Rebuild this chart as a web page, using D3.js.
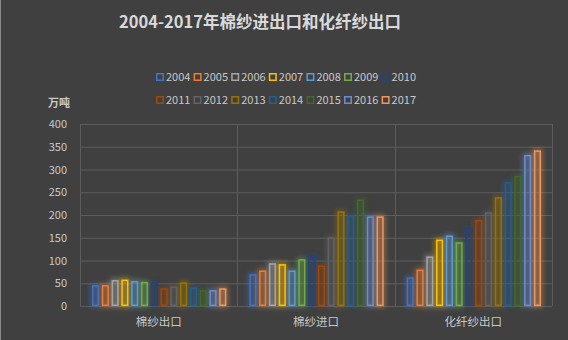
<!DOCTYPE html>
<html><head><meta charset="utf-8">
<script src="https://cdn.jsdelivr.net/npm/d3@7"></script>
<style>
html,body{margin:0;padding:0;background:#404040;}
svg{display:block;}
text{font-family:"Noto Sans CJK SC","Noto Sans",sans-serif;}
</style></head>
<body>
<script>
const categories = ["棉纱出口","棉纱进口","化纤纱出口"];
const years = ["2004","2005","2006","2007","2008","2009","2010","2011","2012","2013","2014","2015","2016","2017"];
const cottonExport = [46,46,57,58,55,53,52,39,43,52,41,35,35,39];
const cottonImport = [70,78,94,92,78,103,110,89,151,208,200,234,197,197];
const fiberExport = [63,80,109,146,155,140,171,189,206,239,272,286,332,342];
const yTicks = [0,50,100,150,200,250,300,350,400];
const colors = ["#4472C4","#ED7D31","#A5A5A5","#FFC000","#5B9BD5","#70AD47","#264478","#9E480E","#636363","#997300","#255E91","#43682B","#698ED0","#F1975A"];

(function(){
const seriesByCat = [cottonExport, cottonImport, fiberExport];
const W = 568, H = 340;
const svg = d3.select("body").append("svg").attr("width", W).attr("height", H);
svg.append("rect").attr("width", W).attr("height", H).attr("fill", "#404040");
svg.append("line").attr("x1",0.5).attr("x2",0.5).attr("y1",0).attr("y2",H).attr("stroke","#8a8a8a").attr("stroke-width",1);

const defs = svg.append("defs");
const f = defs.append("filter").attr("id","glow").attr("x","-100%").attr("y","-50%").attr("width","300%").attr("height","200%");
f.append("feGaussianBlur").attr("in","SourceGraphic").attr("stdDeviation",2.5).attr("result","b");
const m = f.append("feMerge");
m.append("feMergeNode").attr("in","b");

const pL = 80, pR = 552, pT = 124, pB = 306;
const y = d3.scaleLinear().domain([0,400]).range([pB, pT]);
const x0 = d3.scaleBand().domain(categories).range([pL, pR]).padding(0);
const x1 = d3.scaleBand().domain(years).range([11, x0.bandwidth()-10]).paddingInner(0.27).paddingOuter(0.1);

// title
svg.append("text").attr("x", 260).attr("y", 28).attr("text-anchor","middle")
  .attr("font-size", 16.5).attr("font-weight","bold").attr("fill","#d9d9d9")
  .text("2004-2017年棉纱进出口和化纤纱出口");

// grid
const yAxis = d3.axisLeft(y).tickValues(yTicks).tickSize(-(pR-pL)).tickPadding(13);
const ga = svg.append("g").attr("transform", `translate(${pL},0)`).call(yAxis);
ga.select(".domain").remove();
ga.selectAll(".tick line").attr("stroke","#5c5c5c").attr("stroke-width",1);
ga.selectAll(".tick text").attr("fill","#c8c8c8").attr("font-size",11).attr("font-family","'Noto Sans','Noto Sans CJK SC',sans-serif");

// vertical separators
const seps = [pL, ...categories.map(c => x0(c) + x0.bandwidth())];
svg.selectAll("line.sep").data(seps).enter().append("line").attr("class","sep")
  .attr("x1", d=>Math.round(d)+0.5).attr("x2", d=>Math.round(d)+0.5)
  .attr("y1", pT).attr("y2", pB).attr("stroke","#5c5c5c");

// unit label
svg.append("text").attr("x", 48).attr("y", 107).attr("font-size", 11).attr("font-weight","bold").attr("fill","#c8c8c8").text("万吨");

// bars
const data = [];
categories.forEach((c, ci) => years.forEach((yr, yi) => data.push({c, yr, yi, v: seriesByCat[ci][yi]})));
const gb = svg.append("g");
gb.selectAll("rect.glow").data(data).enter().append("rect").attr("class","glow")
  .attr("x", d => x0(d.c) + x1(d.yr)).attr("y", d => y(d.v))
  .attr("width", x1.bandwidth()).attr("height", d => pB - y(d.v))
  .attr("fill", d => colors[d.yi]).attr("fill-opacity",0.2)
  .attr("stroke", d => colors[d.yi]).attr("stroke-width",3).attr("stroke-opacity",0.5)
  .attr("filter","url(#glow)");
gb.selectAll("rect.bar").data(data).enter().append("rect").attr("class","bar")
  .attr("x", d => x0(d.c) + x1(d.yr) + 0.75).attr("y", d => y(d.v) + 0.75)
  .attr("width", x1.bandwidth() - 1.5).attr("height", d => pB - y(d.v) - 1.5)
  .attr("fill", d => colors[d.yi]).attr("fill-opacity",0.1)
  .attr("stroke", d => colors[d.yi]).attr("stroke-width",1.5);

// category labels
svg.selectAll("text.cat").data(categories).enter().append("text").attr("class","cat")
  .attr("x", d => x0(d) + x0.bandwidth()/2).attr("y", 326).attr("text-anchor","middle")
  .attr("font-size", 11.5).attr("fill","#c8c8c8").text(d => d);

// legend
const lg = svg.append("g");
years.forEach((yr, i) => {
  const row = Math.floor(i/7), col = i%7;
  const lx = 156 + col*37.6, ly = row ? 100 : 77;
  lg.append("rect").attr("x", lx+0.75).attr("y", ly-3.5+0.25).attr("width",6.5).attr("height",6.5)
    .attr("fill","none").attr("stroke",colors[i]).attr("stroke-width",1.5);
  lg.append("text").attr("x", lx+10).attr("y", ly+4).attr("font-size",11)
    .attr("font-family","'Noto Sans','Noto Sans CJK SC',sans-serif").attr("fill","#c8c8c8").text(yr);
});
})();
</script>
</body></html>
